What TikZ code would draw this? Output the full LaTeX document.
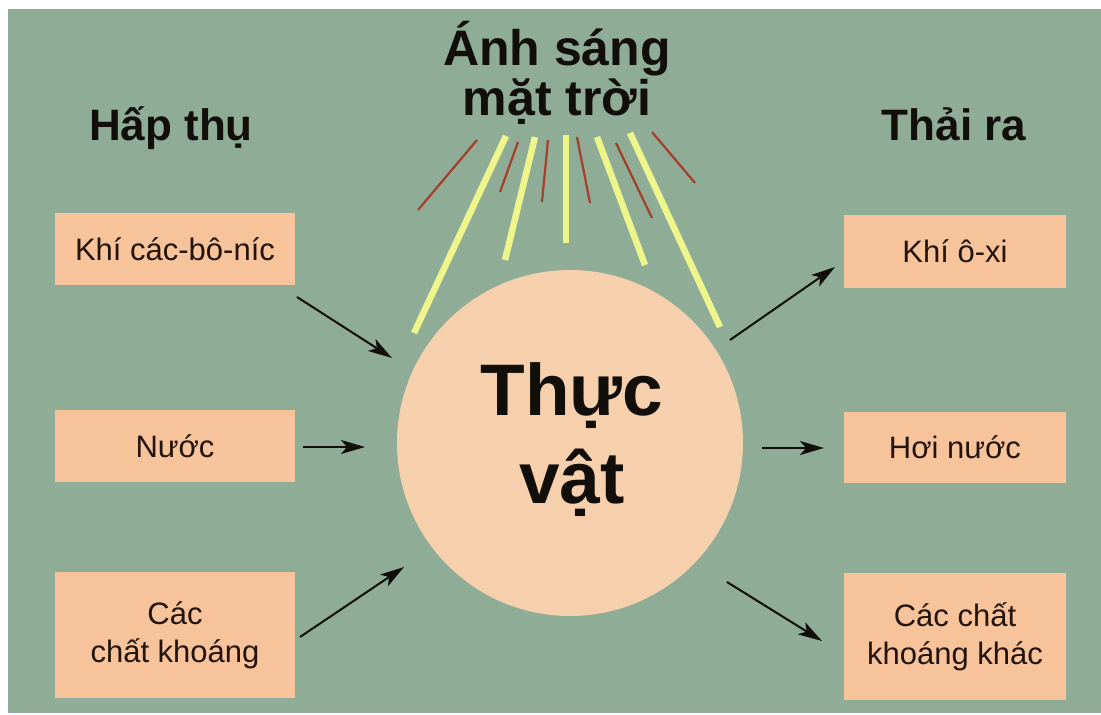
\documentclass[tikz,border=0pt]{standalone}
\usepackage{fontspec}
\setmainfont{Liberation Sans}
\usetikzlibrary{arrows.meta}
\definecolor{bggreen}{RGB}{143,172,150}
\definecolor{boxpeach}{RGB}{247,195,154}
\definecolor{plantfill}{RGB}{246,207,172}
\definecolor{rayyellow}{RGB}{238,245,138}
\definecolor{rayred}{RGB}{165,62,42}
\definecolor{inktext}{RGB}{18,14,10}
\definecolor{boxtext}{RGB}{34,20,12}
\tikzset{
  x=1pt, y=-1pt,
  itembox/.style={rectangle, fill=boxpeach, inner sep=0pt, text=boxtext,
    font=\fontsize{31}{38}\selectfont, align=center},
  headlabel/.style={text=inktext, inner sep=0pt, font=\fontsize{44}{50}\selectfont\bfseries},
  flowarrow/.style={draw=inktext, line width=2pt, -{Stealth[length=24pt,width=14pt,inset=6pt]}},
  sunray/.style={draw=rayyellow, line width=6.5pt},
  redray/.style={draw=rayred, line width=2.2pt},
}
\begin{document}
\begin{tikzpicture}
\useasboundingbox (0,0) rectangle (1101,715);
\fill[white] (0,0) rectangle (1101,715);
\fill[bggreen] (8,9) rectangle (1101,713);

% title and headings
\node[headlabel, font=\fontsize{50}{50}\selectfont\bfseries, align=center, anchor=base] (title) at (557,115) {Ánh sáng\\mặt trời};
\node[headlabel, anchor=base] (absorb) at (171,140) {Hấp thụ};
\node[headlabel, anchor=base] (release) at (954,140) {Thải ra};

% plant circle
\node[circle, fill=plantfill, minimum size=346pt, inner sep=0pt] (plant) at (570,443) {};
\node[text=inktext, inner sep=0pt, align=center, anchor=base,
      font=\fontsize{73}{88}\selectfont\bfseries] (plantlabel) at (572,503) {Thực\\vật};

% rays
\draw[redray] (477,140) -- (418,210);
\draw[redray] (518,142) -- (500,192);
\draw[redray] (548,140) -- (542,202);
\draw[redray] (577,137) -- (590,203);
\draw[redray] (616,143) -- (652,218);
\draw[redray] (652,132) -- (695,183);
\draw[sunray] (506,136) -- (414,333);
\draw[sunray] (535,137) -- (505,260);
\draw[sunray] (566,135) -- (566,243);
\draw[sunray] (597,137) -- (645,265);
\draw[sunray] (630,133) -- (720,327);

% boxes
\node[itembox, minimum width=240pt, minimum height=72pt] (in1) at (175,249) {Khí các-bô-níc};
\node[itembox, minimum width=240pt, minimum height=72pt] (in2) at (175,446) {Nước};
\node[itembox, minimum width=240pt, minimum height=126pt] (in3) at (175,635) {Các\\chất khoáng};
\node[itembox, minimum width=222pt, minimum height=73pt] (out1) at (955,251.5) {Khí ô-xi};
\node[itembox, minimum width=222pt, minimum height=71pt] (out2) at (955,447.5) {Hơi nước};
\node[itembox, minimum width=222pt, minimum height=127pt] (out3) at (955,636.5) {Các chất\\khoáng khác};

% arrow end points
\coordinate (a1s) at (297,297); \coordinate (a1e) at (392,358);
\coordinate (a2s) at (303,447); \coordinate (a2e) at (365,447);
\coordinate (a3s) at (300,637); \coordinate (a3e) at (404,567);
\coordinate (b1s) at (730,340); \coordinate (b1e) at (835,267);
\coordinate (b2s) at (762,448); \coordinate (b2e) at (824,448);
\coordinate (b3s) at (727,582); \coordinate (b3e) at (822,641);

\draw[flowarrow] (a1s) -- (a1e);
\draw[flowarrow] (a2s) -- (a2e);
\draw[flowarrow] (a3s) -- (a3e);
\draw[flowarrow] (b1s) -- (b1e);
\draw[flowarrow] (b2s) -- (b2e);
\draw[flowarrow] (b3s) -- (b3e);
\end{tikzpicture}
\end{document}
